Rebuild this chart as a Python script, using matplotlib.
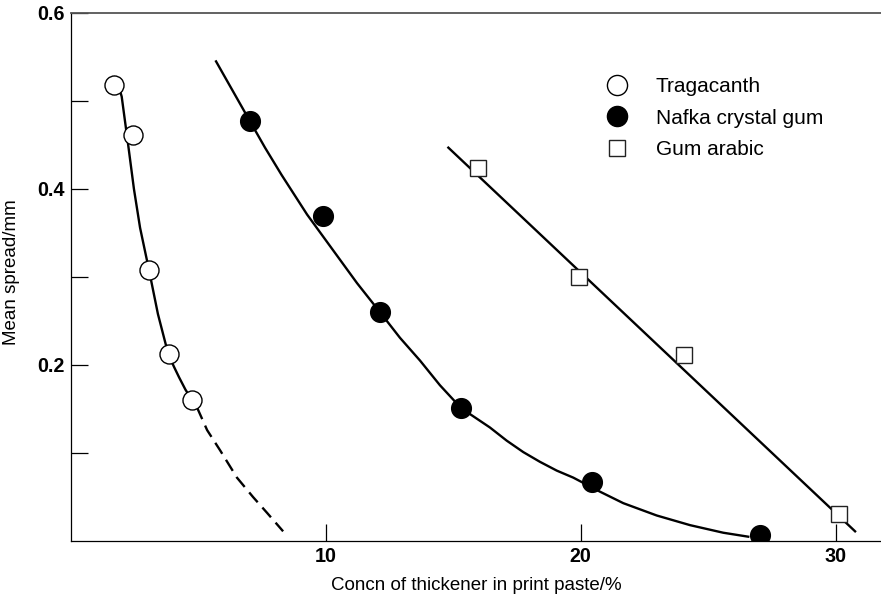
import matplotlib
matplotlib.use("Agg")
import matplotlib.pyplot as plt
from matplotlib.lines import Line2D

plt.rcParams["font.family"] = ["Liberation Sans", "DejaVu Sans"]

# measured points (concentration %, mean spread mm)
trag_x = [1.70, 2.43, 3.08, 3.84, 4.75]
trag_y = [0.518, 0.461, 0.308, 0.213, 0.160]
nafka_x = [7.03, 9.91, 12.13, 15.31, 20.43, 27.03]
nafka_y = [0.477, 0.369, 0.260, 0.151, 0.067, 0.007]
arabic_x = [15.98, 19.95, 24.05, 30.14]
arabic_y = [0.424, 0.300, 0.211, 0.031]

# hand drawn trend curves
trag_curve_x = [1.70, 1.85, 2.00, 2.25, 2.48, 2.72, 3.07, 3.42, 3.82, 4.05, 4.25, 4.50, 4.76, 4.95]
trag_curve_y = [0.527, 0.520, 0.505, 0.451, 0.400, 0.356, 0.308, 0.258, 0.213, 0.198, 0.186, 0.172, 0.160, 0.152]
trag_dash_x = [4.95, 5.35, 5.86, 6.52, 7.15, 7.70, 8.33]
trag_dash_y = [0.152, 0.126, 0.103, 0.072, 0.050, 0.032, 0.011]
nafka_curve_x = [5.70, 7.03, 7.62, 8.27, 9.27, 10.30, 11.23, 12.13, 12.91, 13.70, 14.48,
                 15.31, 16.44, 17.10, 17.75, 18.40, 19.06, 19.71, 20.76, 21.67, 22.98,
                 24.29, 25.59, 26.57]
nafka_curve_y = [0.545, 0.477, 0.447, 0.416, 0.371, 0.330, 0.293, 0.260, 0.231, 0.205, 0.177,
                 0.151, 0.129, 0.114, 0.101, 0.090, 0.080, 0.072, 0.056, 0.043, 0.029,
                 0.018, 0.0094, 0.0049]
arabic_line_x = [14.81, 30.76]
arabic_line_y = [0.447, 0.011]

labels = ["Tragacanth", "Nafka crystal gum", "Gum arabic"]

W, H = 881, 596
fig = plt.figure(figsize=(W / 100, H / 100), dpi=100)
ax = fig.add_axes([70.7 / W, 55 / H, 1 - 70.7 / W, 528 / H])

lw = 1.7
ax.plot(trag_curve_x, trag_curve_y, color="black", lw=lw, zorder=2, solid_joinstyle="round")
ax.plot(trag_dash_x, trag_dash_y, color="black", lw=lw, dashes=(5.5, 3), zorder=2)
ax.plot(nafka_curve_x, nafka_curve_y, color="black", lw=lw, zorder=2, solid_joinstyle="round")
ax.plot(arabic_line_x, arabic_line_y, color="black", lw=lw, zorder=2)

ax.plot(trag_x, trag_y, "o", ms=13.7, mfc="white", mec="black", mew=1.0, zorder=3)
ax.plot(nafka_x, nafka_y, "o", ms=14.2, mfc="black", mec="black", mew=1.0, zorder=3)
ax.plot(arabic_x, arabic_y, "s", ms=11.5, mfc="white", mec="#222222", mew=1.0, zorder=3)

ax.set_xlim(0, (W - 70.7) / 25.5)
ax.set_ylim(0, 0.6)

ax.spines["right"].set_visible(False)
ax.spines["top"].set_color("#555555")
ax.spines["top"].set_linewidth(1.3)
ax.spines["left"].set_linewidth(0.9)
ax.spines["bottom"].set_linewidth(0.9)

ax.set_xticks([10, 20, 30])
ax.set_yticks([0.2, 0.4, 0.6])
ax.set_yticks([0.1, 0.3, 0.5], minor=True)
ax.set_yticklabels(["0.2", "0.4", "0.6"])
ax.tick_params(which="both", direction="in", length=12.5, width=0.9, color="black")
ax.tick_params(axis="both", which="major", labelsize=14.2, pad=4.6)
for t in ax.get_xticklabels() + ax.get_yticklabels():
    t.set_fontweight("bold")

ax.set_xlabel("Concn of thickener in print paste/%", fontsize=13.5)
ax.set_ylabel("Mean spread/mm", fontsize=13.5)
ax.xaxis.set_label_coords(0.5, -0.068)
ax.yaxis.set_label_coords(-0.062, 0.51)

handles = [
    Line2D([], [], ls="none", marker="o", ms=14.5, mfc="white", mec="black", mew=1.0),
    Line2D([], [], ls="none", marker="o", ms=14.5, mfc="black", mec="black"),
    Line2D([], [], ls="none", marker="s", ms=12, mfc="white", mec="#222222", mew=1.0),
]
ax.legend(handles, labels, loc="upper left", bbox_to_anchor=(0.661, 0.878),
          frameon=False, fontsize=15, handlelength=1.0, handletextpad=1.38,
          labelspacing=0.59, borderpad=0, borderaxespad=0)

fig.savefig("out.png", dpi=100)
